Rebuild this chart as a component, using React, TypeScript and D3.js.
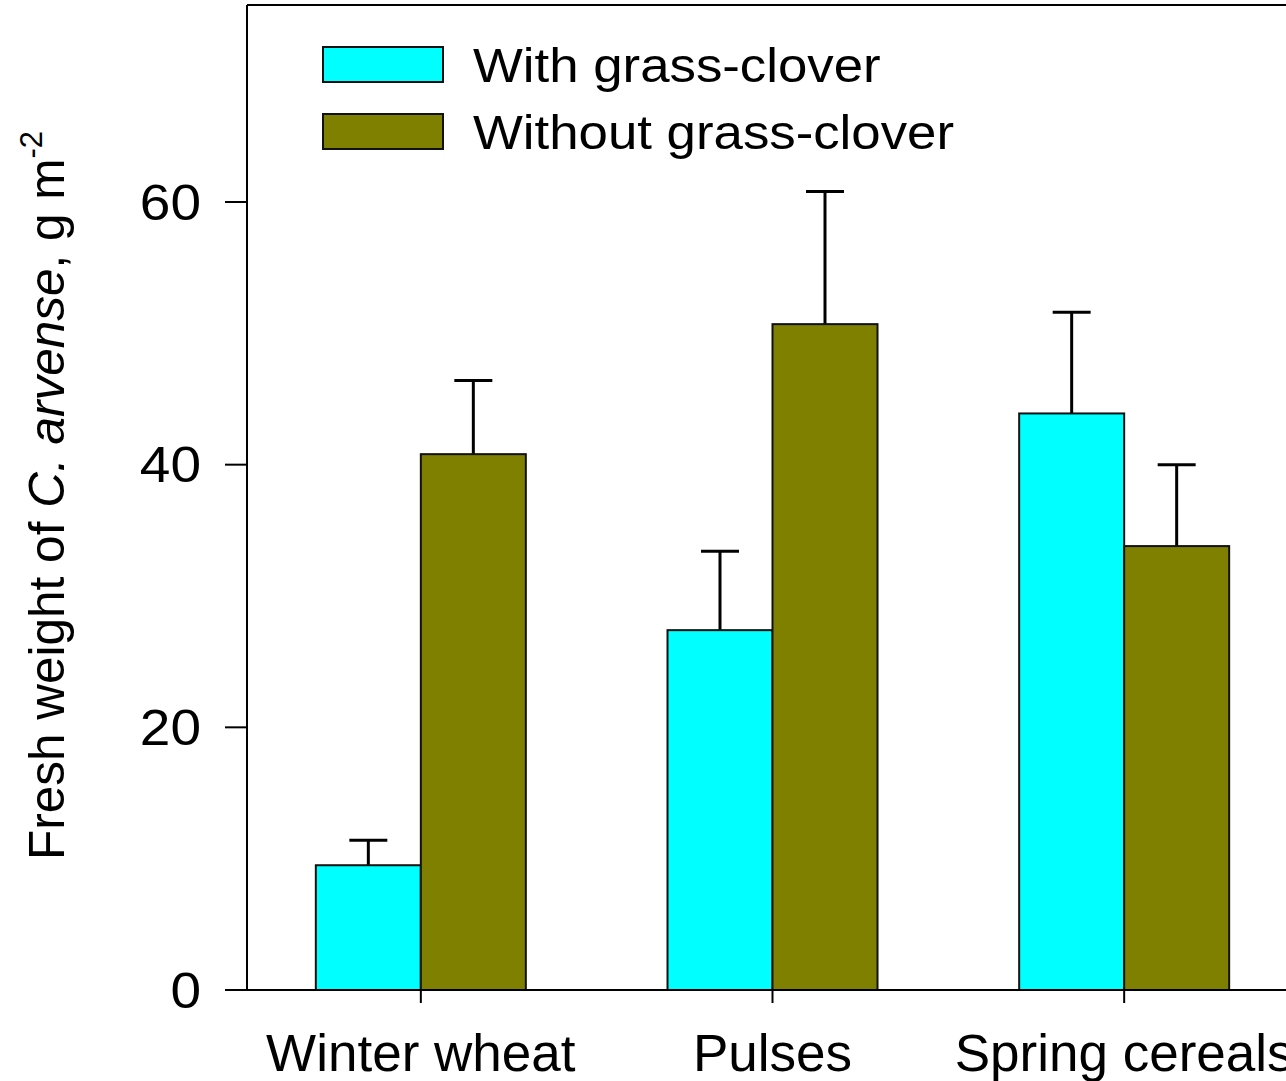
import React, { useEffect, useRef } from 'react'
import * as d3 from 'd3'

// data
const categories = ['Winter wheat', 'Pulses', 'Spring cereals']
const seriesNames = ['With grass-clover', 'Without grass-clover']
const withGrass = [9.5, 27.4, 43.9]
const withGrassErr = [1.9, 6.0, 7.7]
const withoutGrass = [40.8, 50.7, 33.8]
const withoutGrassErr = [5.6, 10.1, 6.2]
const yTicks = [0, 20, 40, 60]
const colors = ['#00ffff', '#808000']

export default function App() {
  const ref = useRef<SVGSVGElement>(null)

  useEffect(() => {
    const svg = d3.select(ref.current)
    svg.selectAll('*').remove()
    const W = 1286
    const left = 247, top = 5, bottom = 990
    const font = 'Liberation Sans, Arial, sans-serif'
    const sx = 1.1 // the original text is a bit wider than Liberation Sans

    const x = d3.scaleBand<string>().domain(categories).range([245, 1300]).padding(0)
    const xSub = d3.scaleBand<string>().domain(seriesNames).range([-105, 105]).padding(0)
    const y = d3.scaleLinear().domain([0, 75]).range([bottom, top])

    const rows = categories.map((c, i) => ({
      cat: c,
      vals: [
        { key: seriesNames[0], v: withGrass[i], e: withGrassErr[i], color: colors[0] },
        { key: seriesNames[1], v: withoutGrass[i], e: withoutGrassErr[i], color: colors[1] },
      ],
    }))

    const g = svg.append('g')

    // error bars (drawn first so bar outlines sit on top)
    rows.forEach(r => {
      const cx = x(r.cat)! + x.bandwidth() / 2
      r.vals.forEach(d => {
        const bx = cx + xSub(d.key)! + xSub.bandwidth() / 2
        g.append('line').attr('x1', bx).attr('x2', bx)
          .attr('y1', y(d.v)).attr('y2', y(d.v + d.e))
          .attr('stroke', '#000').attr('stroke-width', 3)
        g.append('line').attr('x1', bx - 19).attr('x2', bx + 19)
          .attr('y1', y(d.v + d.e)).attr('y2', y(d.v + d.e))
          .attr('stroke', '#000').attr('stroke-width', 3)
      })
    })

    // bars
    rows.forEach(r => {
      const cx = x(r.cat)! + x.bandwidth() / 2
      g.selectAll(null).data(r.vals).enter().append('rect')
        .attr('x', d => cx + xSub(d.key)!)
        .attr('y', d => y(d.v))
        .attr('width', xSub.bandwidth())
        .attr('height', d => bottom - y(d.v))
        .attr('fill', d => d.color)
        .attr('stroke', '#111').attr('stroke-width', 2)
    })

    // frame / axes
    g.append('line').attr('x1', left).attr('x2', left).attr('y1', top).attr('y2', bottom)
      .attr('stroke', '#000').attr('stroke-width', 2)
    g.append('line').attr('x1', left).attr('x2', W).attr('y1', top).attr('y2', top)
      .attr('stroke', '#000').attr('stroke-width', 2)
    g.append('line').attr('x1', 225).attr('x2', W).attr('y1', bottom).attr('y2', bottom)
      .attr('stroke', '#000').attr('stroke-width', 2)

    // y ticks
    yTicks.forEach(t => {
      g.append('line').attr('x1', 225).attr('x2', left).attr('y1', y(t)).attr('y2', y(t))
        .attr('stroke', '#000').attr('stroke-width', 2)
      g.append('text').attr('transform', `translate(201,${y(t)}) scale(${sx},1)`)
        .attr('dy', '0.35em')
        .attr('text-anchor', 'end').attr('font-family', font).attr('font-size', 50)
        .text(t)
    })

    // x ticks + labels
    categories.forEach(c => {
      const cx = x(c)! + x.bandwidth() / 2
      g.append('line').attr('x1', cx).attr('x2', cx).attr('y1', bottom).attr('y2', 1003)
        .attr('stroke', '#000').attr('stroke-width', 2)
      g.append('text').attr('transform', `translate(${cx},1071) scale(1.04,1)`)
        .attr('text-anchor', 'middle').attr('font-family', font).attr('font-size', 51)
        .text(c)
    })

    // y title
    const yt = g.append('text').attr('transform', 'translate(64,860) rotate(-90)')
      .attr('font-family', font).attr('font-size', 49.5)
    yt.append('tspan').text('Fresh weight of ')
    yt.append('tspan').attr('font-style', 'italic').text('C. arvense')
    yt.append('tspan').text(', g m')
    yt.append('tspan').attr('font-size', 31).attr('dy', -22).text('-2')

    // legend
    seriesNames.forEach((s, i) => {
      const ly = 47 + i * 67
      g.append('rect').attr('x', 323).attr('y', ly).attr('width', 120).attr('height', 35)
        .attr('fill', colors[i]).attr('stroke', '#111').attr('stroke-width', 2)
      g.append('text').attr('transform', `translate(473,${ly + 18}) scale(${sx},1)`)
        .attr('dy', '0.35em')
        .attr('font-family', font).attr('font-size', 48).text(s)
    })
  }, [])

  return (
    <svg ref={ref} width={1286} height={1081}
      style={{ position: 'absolute', left: 0, top: 0, background: '#fff' }} />
  )
}
